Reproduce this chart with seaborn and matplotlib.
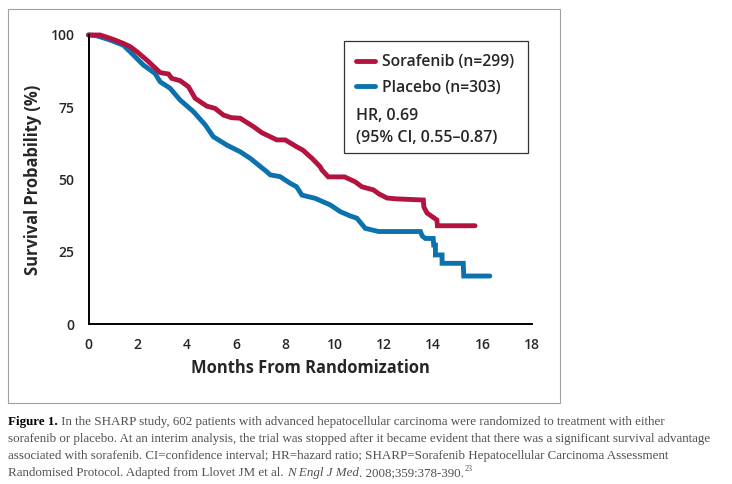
import pandas as pd
import matplotlib.pyplot as plt
import seaborn as sns
from matplotlib.patches import Rectangle

# Kaplan-Meier curves (months, survival %)
months_sor = [0, 0.47, 1.0, 1.41, 1.69, 2.0, 2.37, 2.91, 3.25, 3.38, 3.72, 4.06, 4.33, 4.8, 5.14,
              5.48, 5.8, 6.16, 6.7, 7.04, 7.65, 7.99, 8.46, 8.7, 9.0, 9.07, 9.41, 9.48, 9.74, 10.4,
              10.83, 11.1, 11.57, 11.8, 12.12, 12.5, 13.6, 13.62, 13.75, 13.9, 14.15, 14.17, 15.7]
surv_sor = [100, 100, 98.5, 97.1, 96, 94, 91.3, 87, 86.5, 85, 84.2, 82.1, 78.1, 75.4, 74.6,
            72.3, 71.4, 71.2, 68.3, 66.2, 63.7, 63.7, 61.3, 60.2, 57.9, 57.4, 54.4, 53.3, 50.9, 50.9,
            49.2, 47.5, 46.4, 45, 43.6, 43.3, 42.9, 40.5, 38.4, 37.5, 36, 34, 34]

months_pla = [0, 0.3, 0.8, 1.41, 1.69, 2.23, 2.7, 2.91, 3.31, 3.72, 4.26, 4.74, 5.07, 5.62, 6.16,
              6.57, 7.24, 7.38, 7.78, 8.19, 8.45, 8.67, 9.2, 9.82, 10.22, 10.6, 10.9, 11.24, 11.78,
              13.48, 13.55, 13.68, 14.0, 14.02, 14.09, 14.09, 14.36, 14.36, 15.22, 15.24, 16.3]
surv_pla = [100, 99.8, 98.5, 96.5, 94.2, 89.6, 86.7, 83.8, 81.6, 77.5, 73.5, 68.9, 64.8, 61.9, 59.6,
            57.3, 52.7, 51.6, 51, 48.7, 47.5, 44.6, 43.5, 41.2, 38.9, 37.5, 36.6, 33.1, 32,
            32, 30.5, 29.6, 29.6, 27.3, 27.3, 23.9, 23.9, 21, 21, 16.6, 16.6]

labels = ["Sorafenib (n=299)", "Placebo (n=303)"]
colors = ["#B3133F", "#0B72AE"]
x_ticks = [0, 2, 4, 6, 8, 10, 12, 14, 16, 18]
y_ticks = [0, 25, 50, 75, 100]

df = pd.concat([
    pd.DataFrame({"Months": months_sor, "Survival": surv_sor, "Arm": labels[0]}),
    pd.DataFrame({"Months": months_pla, "Survival": surv_pla, "Arm": labels[1]}),
])

sns.set_style("white")
plt.rcParams['font.family'] = ['Open Sans', 'DejaVu Sans']

W, H = 732, 484
fig = plt.figure(figsize=(W / 100, H / 100), dpi=100)

def fx(px):
    return px / W

def fy(py):
    return 1 - py / H

# outer frame around the chart
fig.patches.append(Rectangle((fx(8), fy(403)), fx(560) - fx(8), fy(9) - fy(403),
                             transform=fig.transFigure, fill=False, edgecolor="#a0a0a0", lw=0.8))

ax = fig.add_axes([fx(88.5), fy(324), fx(531.7) - fx(88.5), fy(35) - fy(324)])
# draw placebo first so sorafenib sits on top
for arm, col in zip(labels[::-1], colors[::-1]):
    sub = df[df["Arm"] == arm]
    sns.lineplot(data=sub, x="Months", y="Survival", color=col, lw=3.5, sort=False,
                 estimator=None, ax=ax, clip_on=False, solid_joinstyle="miter", label=arm)

ax.set_xlim(0, 18)
ax.set_ylim(0, 100)
ax.set_xticks(x_ticks)
ax.set_yticks(y_ticks)
for s in ["top", "right"]:
    ax.spines[s].set_visible(False)
for s in ["left", "bottom"]:
    ax.spines[s].set_linewidth(1.4)
    ax.spines[s].set_color("black")
ax.tick_params(axis="both", direction="out", length=8, width=1.4, color="black",
               labelsize=10, pad=2)
for t in ax.get_xticklabels() + ax.get_yticklabels():
    t.set_fontweight("semibold")
ax.set_xlabel("Months From Randomization", fontsize=11.9, fontweight="bold", labelpad=5)
ax.set_ylabel("Survival Probability (%)", fontsize=11.9, fontweight="bold", labelpad=6)

# legend with box and hazard ratio
handles, lbls = ax.get_legend_handles_labels()
leg = ax.legend(handles[::-1], lbls[::-1], loc="upper left", bbox_to_anchor=(fx(356), fy(54)),
                bbox_transform=fig.transFigure, frameon=False, borderpad=0, borderaxespad=0,
                handlelength=1.2, handletextpad=0.45, labelspacing=0.62,
                prop={"size": 11.3, "weight": "semibold"})
for line in leg.get_lines():
    line.set_linewidth(3.5)
fig.patches.append(Rectangle((fx(344), fy(153)), fx(528) - fx(344), fy(41) - fy(153),
                             transform=fig.transFigure, fill=False, edgecolor="#333333", lw=0.9))
fig.text(fx(356), fy(116), "HR, 0.69", fontsize=11.5, fontweight="semibold", va="center")
fig.text(fx(356), fy(138), "(95% CI, 0.55\u20130.87)", fontsize=11.5, fontweight="semibold", va="center")

# caption
serif = ["Liberation Serif", "DejaVu Serif"]
fs = 9.4
cap = dict(fontsize=fs, family=serif, color="#505050", va="baseline")
chain = dict(fontsize=fs, family=serif, color="#505050", va="bottom")
t1 = fig.text(fx(8), fy(425), "Figure 1.", fontsize=fs, family=serif,
              fontweight="bold", color="black", va="baseline")
fig.add_artist(plt.Annotation(
    " In the SHARP study, 602 patients with advanced hepatocellular carcinoma were randomized to treatment with either",
    xy=(1, 0), xycoords=(t1, t1), **chain))
fig.text(fx(8), fy(442), "sorafenib or placebo. At an interim analysis, the trial was stopped after it became evident that there was a significant survival advantage", **cap)
fig.text(fx(8), fy(459), "associated with sorafenib. CI=confidence interval; HR=hazard ratio; SHARP=Sorafenib Hepatocellular Carcinoma Assessment", **cap)
t4 = fig.text(fx(8), fy(476), "Randomised Protocol. Adapted from Llovet JM et al. ", **cap)
t5 = fig.add_artist(plt.Annotation("N Engl J Med", xy=(1, 0), xycoords=(t4, t4),
                                   fontstyle="italic", **chain))
t6 = fig.add_artist(plt.Annotation(". 2008;359:378-390.", xy=(1, 0), xycoords=(t5, t4), **chain))
sup = dict(chain)
sup["fontsize"] = 5.8
fig.add_artist(plt.Annotation("23", xy=(1, 0), xycoords=(t6, t4), xytext=(0.5, 4.5),
                              textcoords="offset points", **sup))

plt.savefig("out.png", dpi=100)
